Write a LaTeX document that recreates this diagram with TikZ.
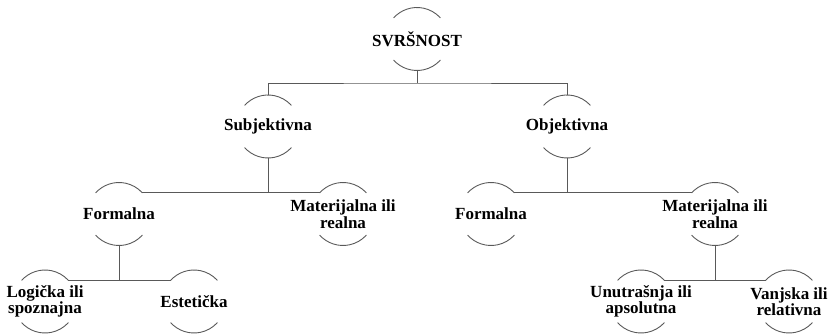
\documentclass[tikz,border=0pt]{standalone}
\usepackage{fontspec}
\setmainfont{Liberation Serif}
\usepackage{tikz}
\usetikzlibrary{calc}

\begin{document}
\begin{tikzpicture}[
  x=1pt, y=1pt,
  krug/.style={circle, minimum size=63pt, inner sep=0pt, outer sep=0pt},
  tekst/.style={align=center, font=\bfseries\fontsize{17}{15}\selectfont, text=black, inner sep=0pt},
  veza/.style={draw=black!65, line width=0.9pt}
]
\useasboundingbox (0,0) rectangle (830,334);

\node[krug, label={[tekst]center:SVRŠNOST}] (vrh) at (417,295) {};
\node[krug, label={[tekst]center:Subjektivna}] (subj) at (268,207.5) {};
\node[krug, label={[tekst]center:Objektivna}] (obj) at (567,207.5) {};
\node[krug, label={[tekst]center:Formalna}] (formL) at (119,120) {};
\node[krug, label={[tekst]center:Materijalna ili\\realna}] (matL) at (343,120) {};
\node[krug, label={[tekst]center:Formalna}] (formR) at (491,120) {};
\node[krug, label={[tekst]center:Materijalna ili\\realna}] (matR) at (715,120) {};
\node[krug, label={[tekst]center:Logička ili\\spoznajna}] (log) at (45,32.5) {};
\node[krug, label={[tekst]center:Estetička}] (est) at (194,32.5) {};
\node[krug, label={[tekst]center:Unutrašnja ili\\apsolutna}] (unu) at (641,32.5) {};
\node[krug, label={[tekst]center:Vanjska ili\\relativna}] (van) at (789,32.5) {};

% lukovi iznad i ispod teksta
\foreach \n in {vrh, subj, obj, formL, matL, formR, matR, log, est, unu, van} {
  \draw[veza] (\n.138) arc[start angle=138, end angle=42, radius=31.5];
  \draw[veza] (\n.222) arc[start angle=222, end angle=318, radius=31.5];
}

% prva razina
\coordinate (r1) at ([yshift=-12.5pt]vrh.south);
\draw[veza] (vrh.south) -- (r1);
\draw[veza] (subj.north) |- (r1) -| (obj.north);

% druga razina
\draw[veza] (formL.42) -- (matL.138);
\draw[veza] (subj.south) -- (subj.south |- formL.42);
\draw[veza] (formR.42) -- (matR.138);
\draw[veza] (obj.south) -- (obj.south |- formR.42);

% treca razina
\draw[veza] (log.42) -- (est.138);
\draw[veza] (formL.south) -- (formL.south |- log.42);
\draw[veza] (unu.42) -- (van.138);
\draw[veza] (matR.south) -- (matR.south |- unu.42);
\end{tikzpicture}
\end{document}
